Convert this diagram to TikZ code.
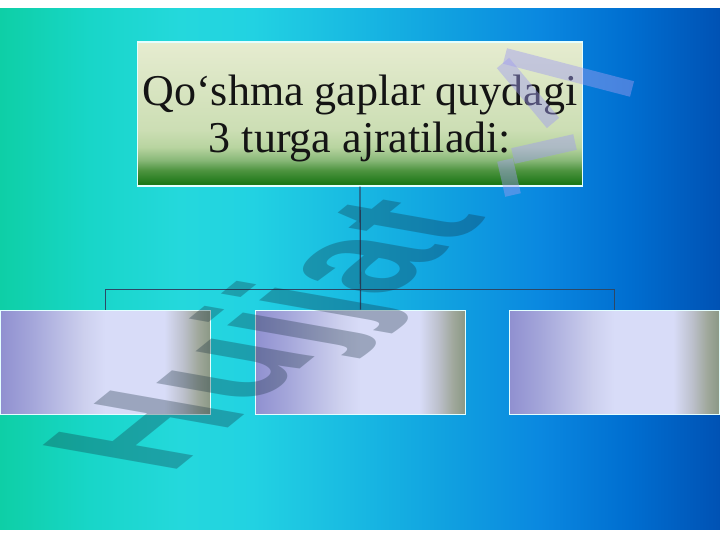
\documentclass[tikz,border=0pt]{standalone}
\usepackage{fontspec}
\setmainfont{Liberation Serif}
\newfontfamily\wmfont{Liberation Sans}
\usetikzlibrary{positioning}

\definecolor{bgA}{HTML}{0ECFA6}
\definecolor{bgB}{HTML}{18D6C8}
\definecolor{bgC}{HTML}{24D8DC}
\definecolor{bgD}{HTML}{22D2E2}
\definecolor{bgE}{HTML}{18B8E2}
\definecolor{bgF}{HTML}{10A0E0}
\definecolor{bgG}{HTML}{0A88E0}
\definecolor{bgH}{HTML}{006ED0}
\definecolor{bgI}{HTML}{0052B4}
\definecolor{tA}{HTML}{1E7818}
\definecolor{tB}{HTML}{4E9440}
\definecolor{tC}{HTML}{88B878}
\definecolor{tD}{HTML}{B8D4A0}
\definecolor{tE}{HTML}{CCDEB4}
\definecolor{tF}{HTML}{E6ECD0}
\definecolor{sA}{HTML}{9090D0}
\definecolor{sB}{HTML}{A4A6DA}
\definecolor{sC}{HTML}{CDD0EE}
\definecolor{sD}{HTML}{D8DCF8}
\definecolor{sE}{HTML}{BCC0CC}
\definecolor{sF}{HTML}{A0A89C}
\definecolor{sG}{HTML}{8A9884}
\definecolor{edge}{HTML}{E4FFFF}
\definecolor{linkcol}{HTML}{2C4866}
\definecolor{wmgrey}{HTML}{102838}
\definecolor{wmlav}{HTML}{A09CF0}

\pgfdeclarehorizontalshading{bgshade}{100bp}{color(0bp)=(bgA); color(25bp)=(bgA); color(31.25bp)=(bgB); color(37.5bp)=(bgC); color(42.5bp)=(bgD); color(50bp)=(bgE); color(56.25bp)=(bgF); color(62.5bp)=(bgG); color(68.75bp)=(bgH); color(75bp)=(bgI); color(100bp)=(bgI)}
\pgfdeclareverticalshading{titleshade}{100bp}{color(0bp)=(tA); color(26bp)=(tA); color(30.5bp)=(tB); color(34bp)=(tC); color(38.5bp)=(tD); color(44.5bp)=(tE); color(75bp)=(tF); color(100bp)=(tF)}
\pgfdeclarehorizontalshading{boxshade}{100bp}{color(0bp)=(sA); color(25bp)=(sA); color(32.5bp)=(sB); color(45bp)=(sC); color(50bp)=(sD); color(64bp)=(sD); color(68.5bp)=(sE); color(72bp)=(sF); color(75bp)=(sG); color(100bp)=(sG)}

\tikzset{
  titlebox/.style={draw=edge, line width=1.5pt, shade, shading=titleshade, minimum width=445pt, minimum height=144pt, inner sep=0},
  titletext/.style={font=\fontsize{44}{47}\selectfont, align=center, text=black!92, inner sep=0},
  subbox/.style={draw=edge, line width=1.5pt, shade, shading=boxshade, minimum width=210pt, minimum height=104pt, inner sep=0},
  link/.style={draw=linkcol, line width=1.3pt},
  wmtext/.style={font=\wmfont\bfseries\fontsize{10}{12}\selectfont, text=wmgrey, opacity=.3, inner sep=0}
}

\begin{document}
\begin{tikzpicture}[x=1pt,y=1pt]
\useasboundingbox (0,0) rectangle (720,540);
\fill[white] (0,0) rectangle (720,540);
\shade[shading=bgshade] (0,10) rectangle (720,531);

\node[titlebox] (title) at (360,426) {};
\node[titletext] (head) at ([yshift=-4pt]title.center) {Qo‘shma gaplar quydagi\\3 turga ajratiladi:};

\foreach \x/\n in {105.5/1,360.5/2,614.5/3} {
\node[subbox] (b\n) at (\x,177.5) {};
}

\draw[link] (title.south) -- (b2.north);
\draw[link] (b1.north) -- ++(0,20) -| (b3.north);

% watermark
\begin{scope}[cm={11.5,9.31,-19.5,3.44,(278.7,203.1)}]
\node[wmtext, transform shape] (wm) at (0,0) {Hujjat};
\end{scope}
\begin{scope}[draw=wmlav, opacity=.45, line width=16pt]
\draw (505,484) -- (632,451);
\draw (503,477) -- (553,417);
\draw (513,384) -- (575,398);
\draw (505,380) -- (513,345);
\end{scope}
\end{tikzpicture}
\end{document}
